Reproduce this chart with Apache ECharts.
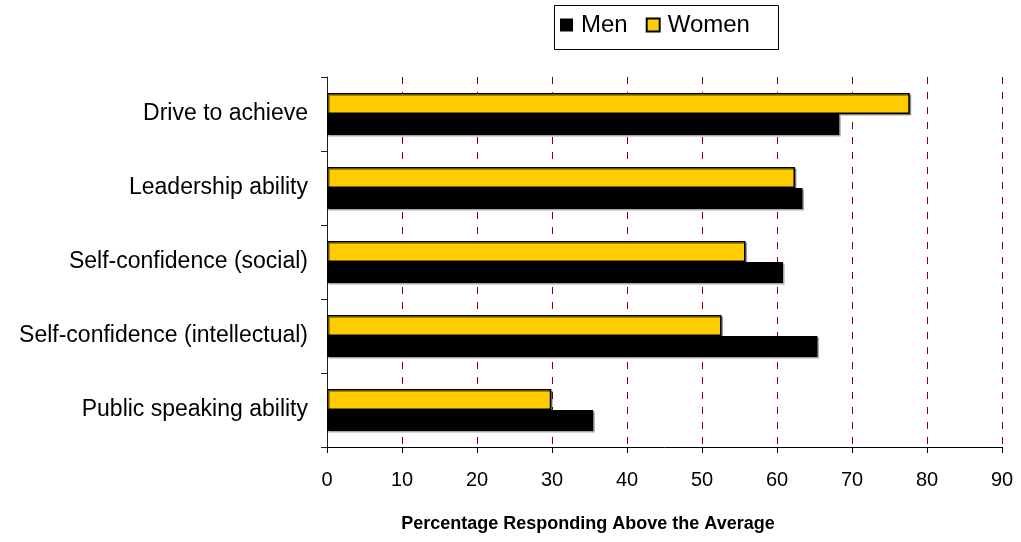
<!DOCTYPE html>
<html>
<head>
<meta charset="utf-8">
<title>Self-ratings above the average</title>
<script src="https://cdn.jsdelivr.net/npm/echarts@6/dist/echarts.min.js"></script>
<style>
  html, body { margin: 0; padding: 0; background: #fff; }
  #chart { width: 1021px; height: 542px; }
</style>
</head>
<body>
<div id="chart"></div>
<script>
// Traits, listed top to bottom
const categories = [
  'Drive to achieve',
  'Leadership ability',
  'Self-confidence (social)',
  'Self-confidence (intellectual)',
  'Public speaking ability'
];
// Percentage responding "above the average"
const women = [77.7, 62.4, 55.8, 52.6, 29.9];
const men = [68.3, 63.4, 60.8, 65.4, 35.5];
const xTicks = { min: 0, max: 90, step: 10 };

const FONT = '"Liberation Sans", Arial, Helvetica, sans-serif';
const chart = echarts.init(document.getElementById('chart'), null, { renderer: 'canvas' });

chart.setOption({
  backgroundColor: '#ffffff',
  animation: false,
  textStyle: { fontFamily: FONT, color: '#000' },
  // frame around the legend
  graphic: [{
    type: 'rect',
    left: 552,
    top: 3,
    shape: { width: 224, height: 44 },
    style: { fill: 'none', stroke: '#000', lineWidth: 1 },
    silent: true
  }],
  legend: {
    data: ['Men', 'Women'],
    left: 560,
    top: 13,
    icon: 'rect',
    itemWidth: 13,
    itemHeight: 13,
    itemGap: 18,
    padding: 0,
    textStyle: { fontFamily: FONT, fontSize: 24, color: '#000', padding: [0, 0, 0, 3] }
  },
  grid: { left: 327, right: 19, top: 77, bottom: 95, containLabel: false },
  xAxis: {
    type: 'value',
    min: xTicks.min,
    max: xTicks.max,
    interval: xTicks.step,
    name: 'Percentage Responding Above the Average',
    nameLocation: 'middle',
    nameGap: 68,
    nameTextStyle: {
      fontFamily: FONT, fontSize: 18, fontWeight: 'bold', color: '#000',
      padding: [0, 153, 0, 0]
    },
    axisLine: { show: true, lineStyle: { color: '#000', width: 1 } },
    axisTick: { show: true, length: 6, lineStyle: { color: '#000' } },
    axisLabel: { fontFamily: FONT, fontSize: 20, color: '#000', margin: 23 },
    splitLine: {
      show: true,
      lineStyle: { color: '#8B0000', width: 1, type: [7, 8] }
    }
  },
  yAxis: {
    type: 'category',
    inverse: true,
    data: categories,
    axisLine: { show: true, lineStyle: { color: '#222', width: 1 } },
    axisTick: { show: true, length: 6, lineStyle: { color: '#222' } },
    axisLabel: { fontFamily: FONT, fontSize: 23, color: '#000', margin: 19 },
    splitLine: { show: false }
  },
  series: [
    {
      name: 'Women',
      type: 'bar',
      data: women,
      barGap: '0%',
      barCategoryGap: '43%',
      itemStyle: {
        color: '#FFCC00',
        borderColor: '#000',
        borderWidth: 1.5,
        shadowColor: 'rgba(0,0,0,0.35)',
        shadowOffsetX: 1.5,
        shadowOffsetY: 1.5
      }
    },
    {
      name: 'Men',
      type: 'bar',
      data: men,
      barGap: '0%',
      barCategoryGap: '43%',
      itemStyle: {
        color: '#000',
        shadowColor: 'rgba(0,0,0,0.35)',
        shadowOffsetX: 1.5,
        shadowOffsetY: 1.5
      }
    }
  ]
});
</script>
</body>
</html>
